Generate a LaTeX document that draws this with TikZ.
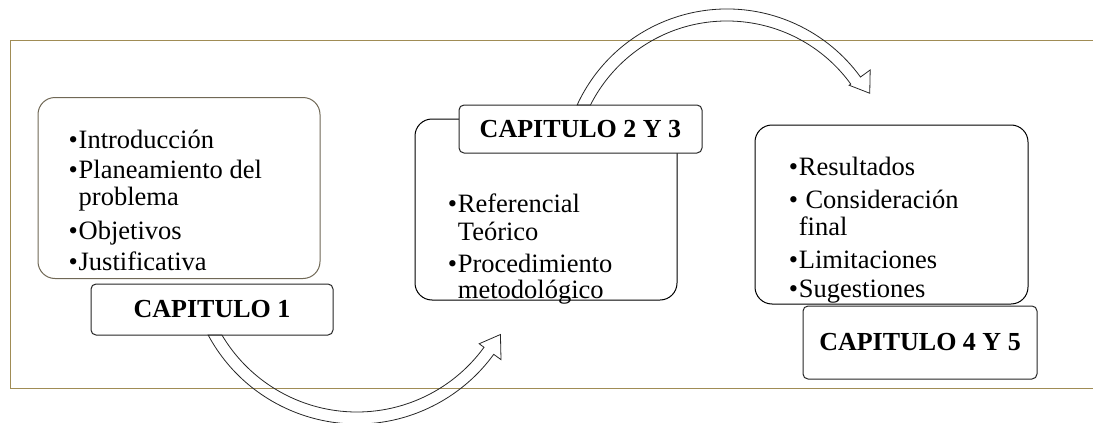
\documentclass[tikz,border=0pt]{standalone}
\usepackage{fontspec}
\setmainfont{Liberation Serif}
\usepackage{tikz}
\usetikzlibrary{calc}
\definecolor{framebrown}{RGB}{160,140,85}
\definecolor{boxgray}{RGB}{112,104,86}
\tikzset{>=latex}
\tikzset{
  listbox/.style={draw=black, rounded corners=17pt, fill=white, line width=1pt, inner sep=0pt},
  capbox/.style={draw=black!85, rounded corners=5pt, fill=white, line width=1pt, inner sep=0pt, font=\fontsize{26}{28}\selectfont\bfseries},
  itemtext/.style={anchor=base west, inner sep=0pt, font=\fontsize{26.5}{28}\selectfont},
  bigarrow/.style={draw=black!85, line width=0.8pt}
}
\newcommand{\bul}{\makebox[10pt][l]{•}}

\begin{document}
\begin{tikzpicture}[x=1pt,y=1pt]
\useasboundingbox (0,0) rectangle (1093,-423);
\draw[framebrown, line width=1pt] (1093,-40) -- (10.5,-40) -- (10.5,-388) -- (1093,-388);

% capitulo 1
\node[listbox, draw=boxgray, minimum width=282pt, minimum height=181pt] (box1) at (179,-188) {};
\node[capbox, minimum width=242pt, minimum height=51pt] (cap1) at (212,-309.5) {CAPITULO 1};
\node[itemtext] (intro) at (68.5,-148) {\bul Introducción};
\node[itemtext] (plan) at (68.5,-178) {\bul Planeamiento del};
\node[itemtext] (prob) at (78.5,-205) {problema};
\node[itemtext] (obj) at (68.5,-239) {\bul Objetivos};
\node[itemtext] (just) at (68.5,-270) {\bul Justificativa};

% capitulo 2 y 3
\node[listbox, minimum width=262pt, minimum height=181pt] (box2) at (546,-209.5) {};
\node[capbox, minimum width=243pt, minimum height=48pt] (cap2) at (580.5,-129) {CAPITULO 2 Y 3};
\node[itemtext] (ref) at (447.7,-212) {\bul Referencial};
\node[itemtext] (teo) at (457.7,-240) {Teórico};
\node[itemtext] (proc) at (447.7,-272) {\bul Procedimiento};
\node[itemtext] (met) at (457.7,-298) {metodológico};

% capitulo 4 y 5
\node[listbox, minimum width=273pt, minimum height=179pt] (box3) at (891.5,-214.5) {};
\node[capbox, minimum width=234pt, minimum height=73pt] (cap3) at (920,-342.5) {CAPITULO 4 Y 5};
\node[itemtext] (res) at (788.7,-175) {\bul Resultados};
\node[itemtext] (cons) at (788.7,-208) {\bul\ Consideración};
\node[itemtext] (fin) at (798.7,-235) {final};
\node[itemtext] (lim) at (788.7,-268) {\bul Limitaciones};
\node[itemtext] (sug) at (788.7,-297) {\bul Sugestiones};

% flechas curvas
\coordinate (c1) at (357,-255);
\coordinate (c2) at (727,-174);
\draw[bigarrow, shift={(c1)}] (208.25:169) arc[start angle=208.25, end angle=324, radius=169pt]
  -- (324:178) -- (331:164) -- (324:151) -- (324:157)
  arc[start angle=324, end angle=210.6, radius=157pt] -- cycle;
\draw[bigarrow, shift={(c2)}] (155.3:165) arc[start angle=155.3, end angle=36, radius=165pt]
  -- (36:177) -- (29.5:164) -- (36:151) -- (36:153)
  arc[start angle=36, end angle=153.2, radius=153pt] -- cycle;
\end{tikzpicture}
\end{document}
